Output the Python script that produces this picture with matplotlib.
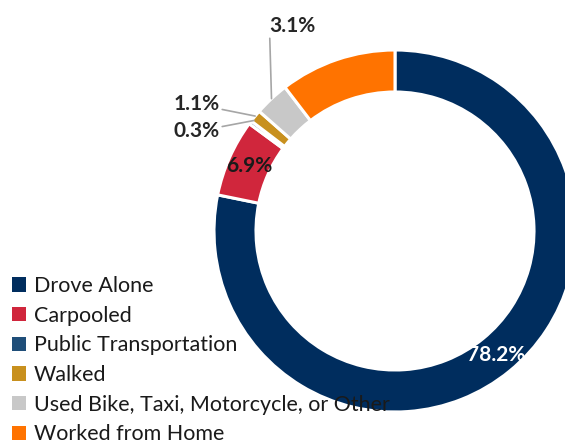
import numpy as np
import matplotlib.pyplot as plt
from matplotlib.patches import Patch

plt.rcParams['font.family'] = ['Lato', 'DejaVu Sans']

modes = ['Drove Alone', 'Carpooled', 'Public Transportation', 'Walked',
         'Used Bike, Taxi, Motorcycle, or Other', 'Worked from Home']
shares = [78.2, 6.9, 0.3, 1.1, 3.1, 10.4]
colors = ['#002D5E', '#D0263C', '#1F4E79', '#C8901E', '#C8C8C8', '#FF7300']

fig = plt.figure(figsize=(5.65, 4.45), dpi=100)
ax = fig.add_axes([0, 0, 1, 1])

wedges, _ = ax.pie(shares, colors=colors, startangle=90, counterclock=False,
                   radius=1.0, wedgeprops=dict(width=0.232, edgecolor='white', linewidth=2.2))

# centre sits at (395, 231) px, radius 181 px
s = 181.0
ax.set_xlim(-395 / s, (565 - 395) / s)
ax.set_ylim(-(445 - 231) / s, 231 / s)
ax.set_aspect('equal')
ax.axis('off')

def mid(i, r):
    w = wedges[i]
    a = np.deg2rad((w.theta1 + w.theta2) / 2)
    return r * np.cos(a), r * np.sin(a)

bold = dict(fontsize=15, fontweight='bold')
line = dict(arrowstyle='-', color='#A6A6A6', lw=1.2, shrinkA=0, shrinkB=0)

# labels inside the ring
x, y = mid(0, 0.884)
ax.text(x, y, '%.1f%%' % shares[0], color='white', ha='center', va='center', **bold)
x, y = mid(1, 0.884)
ax.text(x, y, '%.1f%%' % shares[1], color='#1A1A1A', ha='center', va='center', **bold)

# leader labels
x, y = mid(4, 1.0)
ax.annotate('%.1f%%' % shares[4], xy=(x, y), xytext=(x - 0.01, 1.08), ha='left', va='bottom',
            color='#262626', arrowprops=dict(line, relpos=(0.0, 0.0)), **bold)
x, y = mid(3, 1.0)
ax.annotate('%.1f%%' % shares[3], xy=(x, y), xytext=(-0.97, 0.70), ha='right', va='center',
            color='#262626', arrowprops=line, **bold)
x, y = mid(2, 1.0)
ax.annotate('%.1f%%' % shares[2], xy=(x + 0.02, y + 0.01), xytext=(-0.97, 0.55), ha='right', va='center',
            color='#262626', arrowprops=line, **bold)

handles = [Patch(facecolor=c, edgecolor='none') for c in colors]
ax.legend(handles, modes, loc='upper left', bbox_to_anchor=(12 / 565, 1 - 276 / 445),
          bbox_transform=fig.transFigure, frameon=False, fontsize=15.5,
          handlelength=0.65, handleheight=0.65, handletextpad=0.35,
          labelspacing=0.45, borderpad=0, borderaxespad=0, labelcolor='#1A1A1A')

fig.savefig('out.png', dpi=100)
